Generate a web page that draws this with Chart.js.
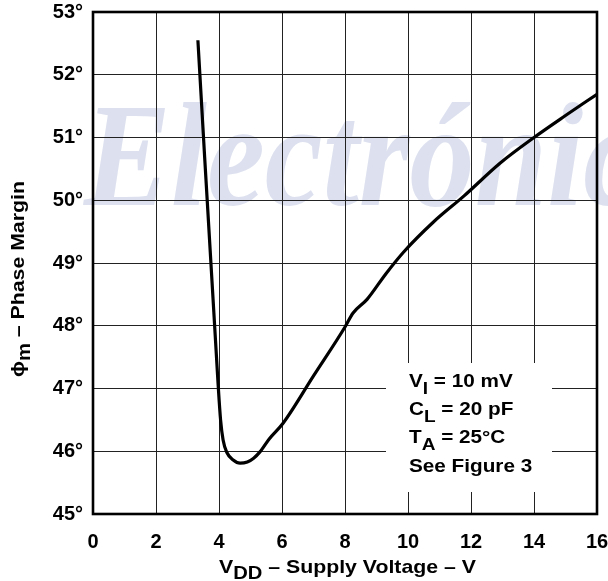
<!DOCTYPE html>
<html>

<head>
    <title>Phase Margin vs Supply Voltage</title>
    <script src="https://cdn.jsdelivr.net/npm/chart.js"></script>
    <style type="text/css">
        body {
            margin: 0;
            background: #fff;
        }

        .chart-box {
            position: relative;
            width: 608px;
            height: 581px;
        }
    </style>
</head>

<body>
    <div class="chart-box">
        <canvas id="myChart"></canvas>
    </div>

    <script>
        // supply voltage (V) and phase margin (deg)
        const vdd = [3.33, 3.97, 4.05, 4.13, 4.25, 4.45, 4.67, 4.9, 5.1, 5.3, 5.6, 6.04, 7.0, 8.0, 8.25, 8.7, 9.3, 9.87, 10.8, 11.78, 12.92, 14.0, 15.0, 16.0];
        const phaseMargin = [52.55, 47.08, 46.5, 46.18, 45.98, 45.86, 45.81, 45.83, 45.89, 45.99, 46.2, 46.45, 47.2, 47.98, 48.2, 48.42, 48.83, 49.18, 49.65, 50.07, 50.59, 51.0, 51.35, 51.69];
        const xTicks = [0, 2, 4, 6, 8, 10, 12, 14, 16];
        const yTicks = [45, 46, 47, 48, 49, 50, 51, 52, 53];
        const notes = [
            ['V', 'I', ' = 10 mV'],
            ['C', 'L', ' = 20 pF'],
            ['T', 'A', ' = 25°C'],
            ['See Figure 3', '', '']
        ];

        const FONT = '"Liberation Sans", Arial, sans-serif';
        const WIDE = 1.12; // labels are set a bit wide

        const points = vdd.map((v, i) => ({ x: v, y: phaseMargin[i] }));

        // text with a subscript part: main, sub, rest (drawn from the current origin)
        function subText(ctx, x, y, main, sub, rest, size, subSize, drop) {
            ctx.save();
            ctx.translate(x, y);
            ctx.scale(WIDE, 1);
            let cx = 0;
            ctx.font = 'bold ' + size + 'px ' + FONT;
            ctx.fillText(main, cx, 0);
            cx += ctx.measureText(main).width;
            if (sub) {
                ctx.font = 'bold ' + subSize + 'px ' + FONT;
                ctx.fillText(sub, cx, drop);
                cx += ctx.measureText(sub).width;
            }
            ctx.font = 'bold ' + size + 'px ' + FONT;
            ctx.fillText(rest, cx, 0);
            ctx.restore();
        }

        const decor = {
            id: 'decor',
            beforeDraw(chart) {
                const ctx = chart.ctx;
                ctx.save();
                ctx.fillStyle = '#fff';
                ctx.fillRect(0, 0, chart.width, chart.height);
                // faint lettering behind the grid
                ctx.translate(84, 205);
                ctx.scale(0.88, 1);
                ctx.fillStyle = '#dde1ef';
                ctx.font = 'bold italic 148px "Liberation Serif", serif';
                ctx.textBaseline = 'alphabetic';
                ctx.fillText('Electrónica', 0, 0);
                ctx.restore();
            },
            beforeDatasetsDraw(chart) {
                const ctx = chart.ctx;
                ctx.save();
                // white panel for the test conditions
                ctx.fillStyle = '#fff';
                ctx.fillRect(386, 363, 166, 129);
                ctx.fillStyle = '#000';
                ctx.textBaseline = 'alphabetic';
                notes.forEach((n, i) => {
                    subText(ctx, 409, 387 + i * 28.2, n[0], n[1], n[2], 18.5, 17, 7);
                });
                ctx.restore();
            },
            afterDatasetsDraw(chart) {
                const a = chart.chartArea;
                const ctx = chart.ctx;
                ctx.save();
                ctx.strokeStyle = '#000';
                ctx.lineWidth = 2.6;
                ctx.strokeRect(a.left, a.top, a.right - a.left, a.bottom - a.top);

                ctx.fillStyle = '#000';
                ctx.textBaseline = 'alphabetic';
                // x axis title
                subText(ctx, 219, 573, 'V', 'DD', ' – Supply Voltage – V', 19, 18, 6);
                // y axis title, rotated
                ctx.translate(24, 377);
                ctx.rotate(-Math.PI / 2);
                subText(ctx, 0, 0, 'ϕ', 'm', ' – Phase Margin', 19, 18, 6);
                ctx.restore();
            }
        };

        const ctx = document.getElementById('myChart').getContext('2d');
        const myChart = new Chart(ctx, {
            type: 'line',
            data: {
                datasets: [{
                    data: points,
                    borderColor: '#000',
                    borderWidth: 3.2,
                    pointRadius: 0,
                    cubicInterpolationMode: 'monotone',
                    fill: false
                }]
            },
            options: {
                responsive: true,
                maintainAspectRatio: false,
                animation: false,
                layout: { padding: { top: 12, right: 11, left: 0, bottom: 0 } },
                plugins: {
                    legend: { display: false },
                    tooltip: { enabled: false }
                },
                scales: {
                    x: {
                        type: 'linear',
                        min: xTicks[0],
                        max: xTicks[xTicks.length - 1],
                        afterBuildTicks: (s) => { s.ticks = xTicks.map(v => ({ value: v })); },
                        afterFit: (s) => {
                            s.height = 67;
                            s.paddingLeft = 0;
                            s.paddingRight = 0;
                        },
                        grid: { color: '#222', lineWidth: 1, drawTicks: false },
                        border: { display: false },
                        ticks: {
                            color: '#000',
                            padding: 16,
                            maxRotation: 0,
                            font: { family: FONT, size: 20, weight: 'bold' }
                        }
                    },
                    y: {
                        type: 'linear',
                        min: yTicks[0],
                        max: yTicks[yTicks.length - 1],
                        afterBuildTicks: (s) => { s.ticks = yTicks.map(v => ({ value: v })); },
                        afterFit: (s) => {
                            s.width = 93;
                            s.paddingTop = 0;
                            s.paddingBottom = 0;
                        },
                        grid: { color: '#222', lineWidth: 1, drawTicks: false },
                        border: { display: false },
                        ticks: {
                            color: '#000',
                            padding: 10,
                            font: { family: FONT, size: 20, weight: 'bold' },
                            callback: (v) => v + '°'
                        }
                    }
                }
            },
            plugins: [decor]
        });
    </script>
</body>

</html>
